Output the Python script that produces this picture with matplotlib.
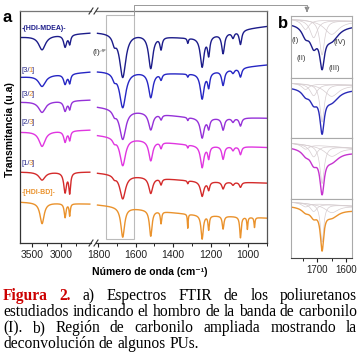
import numpy as np
import matplotlib
matplotlib.use("Agg")
import matplotlib.pyplot as plt
from matplotlib.lines import Line2D
from matplotlib.patches import Rectangle, FancyArrowPatch
from matplotlib.ticker import FixedLocator

plt.rcParams['font.family'] = ['Liberation Sans', 'DejaVu Sans']

# ── Data ──────────────────────────────────────────────────────────────────────
SAMPLES = ["-(HDI-MDEA)-", "[3/1]", "[3/2]", "[2/3]", "[1/3]", "-[HDI-BD]-"]
COLORS = ["#1c1c8a", "#2626c4", "#9531d8", "#e036e0", "#d42b2b", "#ea922c"]

# 3700-2500 cm-1 (N-H / C-H stretch): band centres, half widths, depths
HI_CENTERS = [3327, 2938, 2860]
HI_WIDTHS = [70, 30, 20]
HI_BASE = [(206, 210), (166, 171), (141, 143), (111, 113), (71, 71), (41, 39)]
HI_DEPTH = [[14, 12, 9], [11, 10, 9], [11, 10, 8],
            [15, 11, 9], [8, 20, 20], [21, 14, 12]]

# 1810-900 cm-1 fingerprint region
LO_CENTERS = [1715, 1670, 1520, 1465, 1322, 1245, 1210, 1133, 1080, 1040, 1003, 965]
LO_WIDTHS = [12, 20, 14, 7, 4, 12, 7, 9, 8, 8, 5, 5]
LO_BASE = [(214, 221), (174, 181), (138, 127), (109, 97), (71, 61), (39, 26)]
LO_BROAD = [12, 8, 6, 4, 3, 3]          # broad band centred ~1300
LO_DEPTH = [[8, 44, 33, 12, 5, 30, 18, 20, 6, 14, 0, 0],
            [6, 36, 25, 6, 3, 26, 14, 15, 4, 9, 0, 0],
            [5, 30, 17, 5, 3, 20, 10, 12, 4, 8, 0, 0],
            [4, 28, 20, 6, 3, 22, 12, 13, 4, 8, 0, 0],
            [3, 24, 16, 6, 3, 15, 8, 7, 3, 5, 0, 0],
            [0, 30, 26, 12, 14, 24, 14, 13, 0, 21, 12, 10]]
WIDTH_SCALE = [1.0, 1.0, 1.0, 0.9, 0.9, 0.6]

# carbonyl deconvolution (panel b): components (I)-(IV)
B_CENTERS = [1740, 1712, 1683, 1650]
B_WIDTHS = [[15, 15, 10, 30], [15, 15, 9, 30], [15, 15, 9, 30], [15, 14, 7, 28]]
B_DEPTHS = [[10, 18, 35, 14], [6, 12, 38, 12], [5, 12, 38, 10], [4, 8, 38, 8]]
B_BASE = [(55, 53), (51, 49), (52, 47), (52, 48)]
B_COLORS = ["#1c1c8a", "#2a2ab8", "#c534cf", "#ea922c"]
B_COMP_LABELS = ["(I)", "(II)", "(III)", "(IV)"]

CAPTION = [
    "Figura 2. a) Espectros FTIR de los poliuretanos",
    "estudiados indicando el hombro de la banda de carbonilo",
    "(I). b) Región de carbonilo ampliada mostrando la",
    "deconvolución de algunos PUs.",
]

W, H = 363, 358


def fx(px):
    return px / W


def fy(py):
    return 1 - py / H


def band_sum(wn, centers, widths, depths, scale=1.0):
    out = np.zeros_like(wn)
    for c, w, d in zip(centers, widths, depths):
        out += d / (1 + ((wn - c) / (w * scale)) ** 2)
    return out


def baseline(wn, b0, b1):
    return b0 + (b1 - b0) * (wn[0] - wn) / (wn[0] - wn[-1])


fig = plt.figure(figsize=(W / 100, H / 100), dpi=100)

# ── Panel a: broken x axis ────────────────────────────────────────────────────
ax_l = fig.add_axes([fx(20), fy(243), (91 - 20) / W, (243 - 11) / H])
ax_r = fig.add_axes([fx(96), fy(243), (267 - 96) / W, (243 - 11) / H])

wn_hi = np.arange(3700, 2519, -2.0)
wn_lo = np.arange(1805, 897, -1.0)
for i in range(len(SAMPLES)):
    y_hi = baseline(wn_hi, *HI_BASE[i]) - band_sum(
        wn_hi, HI_CENTERS, HI_WIDTHS, HI_DEPTH[i], WIDTH_SCALE[i])
    ax_l.plot(wn_hi, y_hi, color=COLORS[i], lw=1.0)
    y_lo = (baseline(wn_lo, *LO_BASE[i])
            - band_sum(wn_lo, [1300], [300], [LO_BROAD[i]])
            - band_sum(wn_lo, LO_CENTERS, LO_WIDTHS, LO_DEPTH[i], WIDTH_SCALE[i]))
    ax_r.plot(wn_lo, y_lo, color=COLORS[i], lw=1.0)

ax_l.set_xlim(3700, 2500)
ax_r.set_xlim(1813, 898)
for ax in (ax_l, ax_r):
    ax.set_ylim(0, 232)
    ax.set_yticks([])
    ax.tick_params(axis="x", direction="out", length=3, width=0.8,
                   labelsize=7.5, pad=2, colors="#222222")
    ax.tick_params(axis="x", which="minor", direction="out", length=2, width=0.6)
    ax.spines["top"].set_color("#777777")
    ax.spines["bottom"].set_color("#333333")
    for s in ax.spines.values():
        s.set_linewidth(0.9)

ax_l.xaxis.set_major_locator(FixedLocator([3500, 3000]))
ax_l.xaxis.set_minor_locator(FixedLocator([3250, 2750]))
ax_r.xaxis.set_major_locator(FixedLocator([1800, 1600, 1400, 1200, 1000]))
ax_r.xaxis.set_minor_locator(FixedLocator([1700, 1500, 1300, 1100, 900]))
ax_l.spines["right"].set_visible(False)
ax_l.spines["left"].set_color("#333333")
ax_r.spines["left"].set_visible(False)
ax_r.spines["right"].set_color("#555555")

# highlighted carbonyl region
ax_r.add_patch(Rectangle((1759, 4), 1610 - 1759, 224, fill=False,
                         ec="#bbbbbb", lw=0.8))

# shoulder (I) marker
ax_r.annotate("", xy=(1745, 194), xytext=(1808, 191),
              arrowprops=dict(arrowstyle="-|>", color="#999999", lw=0.5,
                              mutation_scale=5))
fig.text(fx(96), fy(53), "(I)", fontsize=6, color="#333333",
         ha="center", va="center")

# "//" break marks
for yb in (11, 243):
    for xb in (91, 96):
        fig.add_artist(Line2D([fx(xb - 2), fx(xb + 2)], [fy(yb + 3), fy(yb - 3)],
                              color="#333333", lw=0.8))

# sample labels
lbl_y = [29, 70, 95, 123, 163, 192]
fig.text(fx(22), fy(lbl_y[0]), SAMPLES[0], fontsize=5, fontweight="bold",
         color=COLORS[0], va="center")
fig.text(fx(21.5), fy(lbl_y[5]), SAMPLES[5], fontsize=5, fontweight="bold",
         color=COLORS[5], va="center")
fig.canvas.draw()
rend = fig.canvas.get_renderer()
for i in range(1, 5):
    parts = [SAMPLES[i][:3], SAMPLES[i][3], SAMPLES[i][4]]
    cols = ["#2a2a8a", "#ea922c", "#2a2a8a"]
    x = 21
    for p, c in zip(parts, cols):
        t = fig.text(fx(x), fy(lbl_y[i]), p, fontsize=5.5, color=c, va="center")
        x += t.get_window_extent(rend).width - 1.0

fig.text(fx(10), fy(130), "Transmitancia (u.a)", rotation=90, fontsize=7.5,
         fontweight="bold", ha="center", va="center")
fig.text(fx(150), fy(272), "Número de onda (cm⁻¹)", fontsize=7.5,
         fontweight="bold", ha="center", va="center")
fig.text(fx(7), fy(17), "a", fontsize=12, fontweight="bold", ha="center", va="center")
fig.text(fx(283), fy(23), "b", fontsize=12, fontweight="bold", ha="center", va="center")

# connector from highlighted region to panel b
fig.add_artist(Line2D([fx(134), fx(134), fx(307), fx(307)],
                      [fy(15), fy(5), fy(5), fy(9)], color="#999999", lw=0.7))
fig.add_artist(FancyArrowPatch((fx(307), fy(8)), (fx(307), fy(15)),
                               transform=fig.transFigure, arrowstyle="-|>",
                               mutation_scale=7, color="#888888", lw=0.7))

# ── Panel b: carbonyl deconvolution ───────────────────────────────────────────
box_edges = [16, 78, 138, 199, 258]
wn_b = np.arange(1790, 1579, -1.0)
for k in range(4):
    top, bot = box_edges[k], box_edges[k + 1]
    ax = fig.add_axes([fx(291), fy(bot), (352 - 291) / W, (bot - top) / H])
    base = baseline(wn_b, *B_BASE[k])
    for c, w, d in zip(B_CENTERS, B_WIDTHS[k], B_DEPTHS[k]):
        ax.plot(wn_b, base + 4 - band_sum(wn_b, [c], [w], [d]),
                color="#d6cdd0", lw=0.5)
    ax.plot(wn_b, base - band_sum(wn_b, B_CENTERS, B_WIDTHS[k], B_DEPTHS[k]),
            color=B_COLORS[k], lw=1.0)
    ax.set_xlim(1790, 1580)
    ax.set_ylim(0, bot - top)
    ax.set_yticks([])
    for s in ax.spines.values():
        s.set_color("#aaaaaa")
        s.set_linewidth(0.8)
    if k < 3:
        ax.set_xticks([])
    else:
        ax.spines["bottom"].set_color("#444444")
        ax.xaxis.set_major_locator(FixedLocator([1700, 1600]))
        ax.xaxis.set_minor_locator(FixedLocator([1750, 1650]))
        ax.tick_params(axis="x", direction="out", length=3, width=0.8,
                       labelsize=7, pad=2, colors="#222222")
        ax.tick_params(axis="x", which="minor", direction="out", length=2, width=0.6)
    if k == 0:
        for lab, (px, py) in zip(B_COMP_LABELS, [(295, 40), (301, 58), (334, 68), (340, 43)]):
            fig.text(fx(px), fy(py), lab, fontsize=5.5, color="#333333",
                     ha="center", va="center")

# ── Caption (justified, serif) ────────────────────────────────────────────────
serif = ["Liberation Serif", "DejaVu Serif"]
probe = fig.text(0, 0, CAPTION[1], fontsize=10, family=serif)
cap_size = 10 * (357 - 3) / probe.get_window_extent(rend).width
probe.remove()
for i, line in enumerate(CAPTION):
    words = line.split(" ")
    texts = []
    for j, w in enumerate(words):
        red = (i == 0 and j < 2)
        texts.append(fig.text(0, fy(300 + 16 * i), w, fontsize=cap_size, family=serif,
                              color="#cc0000" if red else "black",
                              fontweight="bold" if red else "normal", va="baseline"))
    widths = [t.get_window_extent(rend).width for t in texts]
    if i < len(CAPTION) - 1:
        gap = (357 - 3 - sum(widths)) / (len(words) - 1)
    else:
        gap = cap_size * 100 / 72 * 0.25
    x = 3
    for t, wd in zip(texts, widths):
        t.set_x(fx(x))
        x += wd + gap

fig.savefig("out.png", dpi=100)
